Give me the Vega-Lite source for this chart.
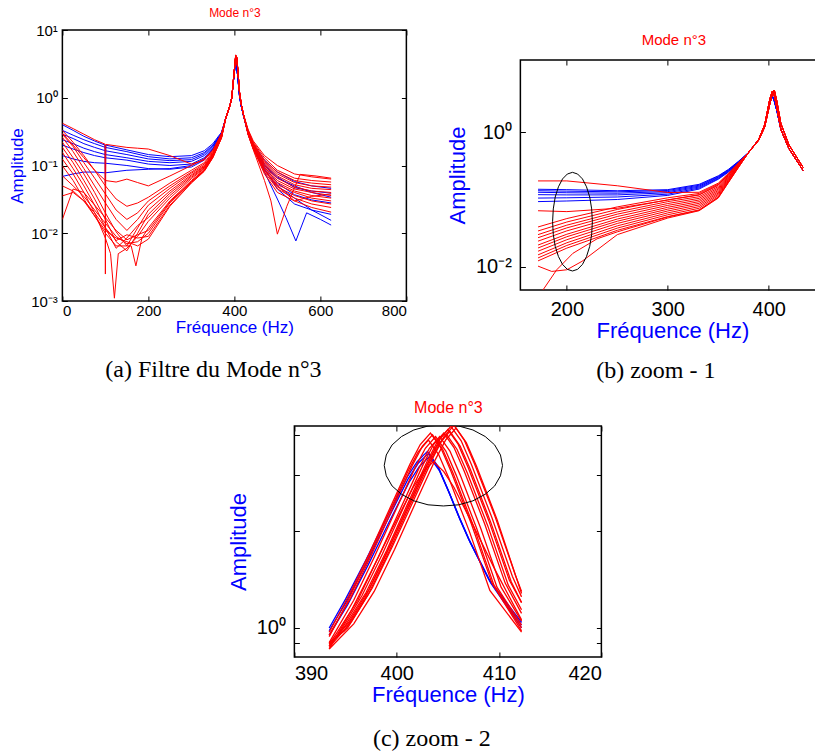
{
"$schema": "https://vega.github.io/schema/vega-lite/v6.json",
"background": "white",
"padding": {"left": 7, "top": 5, "right": 0, "bottom": 0},
"config": {
  "view": {"stroke": "black", "strokeWidth": 1.5},
  "axis": {"grid": false, "domain": false, "tickColor": "black", "tickWidth": 1, "labelColor": "black", "labelFont": "Liberation Sans", "titleFont": "Liberation Sans", "titleFontWeight": "normal", "titleColor": "#0000ff"},
  "title": {"font": "Liberation Serif", "fontWeight": "normal", "color": "black", "fontSize": 24, "orient": "bottom", "frame": "group", "anchor": "middle"},
  "line": {"strokeWidth": 1}
},
"datasets": {
"aB": [
{"s":1,"f":0,"v":0.4},{"s":1,"f":25,"v":0.33},{"s":1,"f":50,"v":0.27},{"s":1,"f":75,"v":0.23},{"s":1,"f":99,"v":0.2},{"s":1,"f":100,"v":0.055},{"s":1,"f":101,"v":0.2},{"s":1,"f":150,"v":0.17},{"s":1,"f":200,"v":0.145},{"s":1,"f":250,"v":0.135},{"s":1,"f":300,"v":0.14},{"s":1,"f":330,"v":0.165},{"s":1,"f":350,"v":0.21},{"s":1,"f":370,"v":0.31},{"s":1,"f":380,"v":0.5},{"s":1,"f":390,"v":0.78},{"s":1,"f":394,"v":1},{"s":1,"f":398,"v":1.8},{"s":1,"f":401,"v":2.7},{"s":1,"f":403,"v":3.5},{"s":1,"f":405.5,"v":2.8},{"s":1,"f":408,"v":2},{"s":1,"f":412,"v":1.05},{"s":1,"f":416,"v":0.75},{"s":1,"f":421,"v":0.55},{"s":1,"f":432,"v":0.32},{"s":1,"f":444,"v":0.21},{"s":1,"f":470,"v":0.12},{"s":1,"f":500,"v":0.08},{"s":1,"f":540,"v":0.058},{"s":1,"f":580,"v":0.05},{"s":1,"f":625,"v":0.046},
{"s":2,"f":0,"v":0.33},{"s":2,"f":25,"v":0.28},{"s":2,"f":50,"v":0.24},{"s":2,"f":75,"v":0.21},{"s":2,"f":100,"v":0.185},{"s":2,"f":150,"v":0.16},{"s":2,"f":200,"v":0.135},{"s":2,"f":250,"v":0.125},{"s":2,"f":300,"v":0.13},{"s":2,"f":330,"v":0.155},{"s":2,"f":350,"v":0.2},{"s":2,"f":370,"v":0.3},{"s":2,"f":380,"v":0.5},{"s":2,"f":390,"v":0.78},{"s":2,"f":394,"v":1},{"s":2,"f":398,"v":1.8},{"s":2,"f":401,"v":2.7},{"s":2,"f":403,"v":3.5},{"s":2,"f":405.5,"v":2.8},{"s":2,"f":408,"v":2},{"s":2,"f":412,"v":1.05},{"s":2,"f":416,"v":0.75},{"s":2,"f":421,"v":0.55},{"s":2,"f":432,"v":0.31},{"s":2,"f":444,"v":0.2},{"s":2,"f":470,"v":0.105},{"s":2,"f":500,"v":0.068},{"s":2,"f":540,"v":0.047},{"s":2,"f":580,"v":0.042},{"s":2,"f":625,"v":0.039},
{"s":3,"f":0,"v":0.29},{"s":3,"f":25,"v":0.25},{"s":3,"f":50,"v":0.21},{"s":3,"f":75,"v":0.185},{"s":3,"f":100,"v":0.165},{"s":3,"f":150,"v":0.145},{"s":3,"f":200,"v":0.125},{"s":3,"f":250,"v":0.118},{"s":3,"f":300,"v":0.122},{"s":3,"f":330,"v":0.148},{"s":3,"f":350,"v":0.195},{"s":3,"f":370,"v":0.3},{"s":3,"f":380,"v":0.5},{"s":3,"f":390,"v":0.78},{"s":3,"f":394,"v":1},{"s":3,"f":398,"v":1.8},{"s":3,"f":401,"v":2.7},{"s":3,"f":403,"v":3.5},{"s":3,"f":405.5,"v":2.8},{"s":3,"f":408,"v":2},{"s":3,"f":412,"v":1.05},{"s":3,"f":416,"v":0.75},{"s":3,"f":421,"v":0.55},{"s":3,"f":432,"v":0.3},{"s":3,"f":444,"v":0.19},{"s":3,"f":470,"v":0.095},{"s":3,"f":500,"v":0.055},{"s":3,"f":540,"v":0.037},{"s":3,"f":580,"v":0.031},{"s":3,"f":625,"v":0.028},
{"s":4,"f":0,"v":0.24},{"s":4,"f":25,"v":0.21},{"s":4,"f":50,"v":0.18},{"s":4,"f":75,"v":0.16},{"s":4,"f":100,"v":0.145},{"s":4,"f":150,"v":0.13},{"s":4,"f":200,"v":0.115},{"s":4,"f":250,"v":0.11},{"s":4,"f":300,"v":0.115},{"s":4,"f":330,"v":0.14},{"s":4,"f":350,"v":0.19},{"s":4,"f":370,"v":0.29},{"s":4,"f":380,"v":0.5},{"s":4,"f":390,"v":0.78},{"s":4,"f":394,"v":1},{"s":4,"f":398,"v":1.8},{"s":4,"f":401,"v":2.7},{"s":4,"f":403,"v":3.5},{"s":4,"f":405.5,"v":2.8},{"s":4,"f":408,"v":2},{"s":4,"f":412,"v":1.05},{"s":4,"f":416,"v":0.75},{"s":4,"f":421,"v":0.55},{"s":4,"f":432,"v":0.3},{"s":4,"f":444,"v":0.185},{"s":4,"f":470,"v":0.09},{"s":4,"f":500,"v":0.045},{"s":4,"f":540,"v":0.027},{"s":4,"f":580,"v":0.022},{"s":4,"f":625,"v":0.019},
{"s":5,"f":0,"v":0.2},{"s":5,"f":25,"v":0.175},{"s":5,"f":50,"v":0.155},{"s":5,"f":75,"v":0.14},{"s":5,"f":100,"v":0.13},{"s":5,"f":150,"v":0.12},{"s":5,"f":200,"v":0.105},{"s":5,"f":250,"v":0.1},{"s":5,"f":300,"v":0.105},{"s":5,"f":330,"v":0.13},{"s":5,"f":350,"v":0.18},{"s":5,"f":370,"v":0.29},{"s":5,"f":380,"v":0.5},{"s":5,"f":390,"v":0.78},{"s":5,"f":394,"v":1},{"s":5,"f":398,"v":1.8},{"s":5,"f":401,"v":2.7},{"s":5,"f":403,"v":3.5},{"s":5,"f":405.5,"v":2.8},{"s":5,"f":408,"v":2},{"s":5,"f":412,"v":1.05},{"s":5,"f":416,"v":0.75},{"s":5,"f":421,"v":0.55},{"s":5,"f":432,"v":0.29},{"s":5,"f":444,"v":0.18},{"s":5,"f":470,"v":0.08},{"s":5,"f":500,"v":0.032},{"s":5,"f":520,"v":0.017},{"s":5,"f":543,"v":0.0077},{"s":5,"f":568,"v":0.02},{"s":5,"f":600,"v":0.016},{"s":5,"f":625,"v":0.0132},
{"s":6,"f":0,"v":0.14},{"s":6,"f":25,"v":0.125},{"s":6,"f":50,"v":0.115},{"s":6,"f":75,"v":0.11},{"s":6,"f":100,"v":0.108},{"s":6,"f":150,"v":0.1},{"s":6,"f":200,"v":0.09},{"s":6,"f":250,"v":0.088},{"s":6,"f":300,"v":0.095},{"s":6,"f":330,"v":0.12},{"s":6,"f":350,"v":0.175},{"s":6,"f":370,"v":0.285},{"s":6,"f":380,"v":0.5},{"s":6,"f":390,"v":0.78},{"s":6,"f":394,"v":1},{"s":6,"f":398,"v":1.8},{"s":6,"f":401,"v":2.7},{"s":6,"f":403,"v":3.5},{"s":6,"f":405.5,"v":2.8},{"s":6,"f":408,"v":2},{"s":6,"f":412,"v":1.05},{"s":6,"f":416,"v":0.75},{"s":6,"f":421,"v":0.55},{"s":6,"f":432,"v":0.29},{"s":6,"f":444,"v":0.18},{"s":6,"f":470,"v":0.085},{"s":6,"f":500,"v":0.05},{"s":6,"f":540,"v":0.033},{"s":6,"f":580,"v":0.022},{"s":6,"f":625,"v":0.0155},
{"s":7,"f":0,"v":0.069},{"s":7,"f":25,"v":0.075},{"s":7,"f":50,"v":0.08},{"s":7,"f":75,"v":0.08},{"s":7,"f":100,"v":0.078},{"s":7,"f":150,"v":0.085},{"s":7,"f":200,"v":0.088},{"s":7,"f":250,"v":0.09},{"s":7,"f":300,"v":0.1},{"s":7,"f":330,"v":0.125},{"s":7,"f":350,"v":0.175},{"s":7,"f":370,"v":0.285},{"s":7,"f":380,"v":0.5},{"s":7,"f":390,"v":0.78},{"s":7,"f":394,"v":1},{"s":7,"f":398,"v":1.8},{"s":7,"f":401,"v":2.7},{"s":7,"f":403,"v":3.5},{"s":7,"f":405.5,"v":2.8},{"s":7,"f":408,"v":2},{"s":7,"f":412,"v":1.05},{"s":7,"f":416,"v":0.75},{"s":7,"f":421,"v":0.55},{"s":7,"f":432,"v":0.3},{"s":7,"f":444,"v":0.19},{"s":7,"f":470,"v":0.1},{"s":7,"f":500,"v":0.065},{"s":7,"f":540,"v":0.05},{"s":7,"f":580,"v":0.04},{"s":7,"f":625,"v":0.034}
],
"aR": [
{"s":1,"f":0,"v":0.42},{"s":1,"f":25,"v":0.35},{"s":1,"f":50,"v":0.29},{"s":1,"f":75,"v":0.24},{"s":1,"f":99,"v":0.207},{"s":1,"f":100,"v":0.0025},{"s":1,"f":101,"v":0.205},{"s":1,"f":125,"v":0.195},{"s":1,"f":150,"v":0.185},{"s":1,"f":175,"v":0.18},{"s":1,"f":200,"v":0.175},{"s":1,"f":250,"v":0.14},{"s":1,"f":300,"v":0.105},{"s":1,"f":330,"v":0.12},{"s":1,"f":350,"v":0.165},{"s":1,"f":370,"v":0.3},{"s":1,"f":380,"v":0.5},{"s":1,"f":390,"v":0.78},{"s":1,"f":394,"v":1},{"s":1,"f":398,"v":1.9},{"s":1,"f":401,"v":3},{"s":1,"f":403,"v":4.2},{"s":1,"f":405.5,"v":3.9},{"s":1,"f":408,"v":2.6},{"s":1,"f":412,"v":1.2},{"s":1,"f":416,"v":0.8},{"s":1,"f":421,"v":0.57},{"s":1,"f":432,"v":0.34},{"s":1,"f":444,"v":0.23},{"s":1,"f":470,"v":0.14},{"s":1,"f":500,"v":0.1},{"s":1,"f":540,"v":0.075},{"s":1,"f":580,"v":0.068},{"s":1,"f":625,"v":0.063},
{"s":2,"f":0,"v":0.3},{"s":2,"f":25,"v":0.2},{"s":2,"f":50,"v":0.13},{"s":2,"f":75,"v":0.085},{"s":2,"f":100,"v":0.06},{"s":2,"f":125,"v":0.057},{"s":2,"f":150,"v":0.063},{"s":2,"f":175,"v":0.056},{"s":2,"f":200,"v":0.05},{"s":2,"f":250,"v":0.07},{"s":2,"f":300,"v":0.1},{"s":2,"f":330,"v":0.125},{"s":2,"f":350,"v":0.17},{"s":2,"f":370,"v":0.29},{"s":2,"f":380,"v":0.5},{"s":2,"f":390,"v":0.78},{"s":2,"f":394,"v":1},{"s":2,"f":398,"v":1.9},{"s":2,"f":401,"v":3},{"s":2,"f":403,"v":4.1},{"s":2,"f":405.5,"v":3.9},{"s":2,"f":408,"v":2.6},{"s":2,"f":412,"v":1.2},{"s":2,"f":416,"v":0.8},{"s":2,"f":421,"v":0.57},{"s":2,"f":432,"v":0.33},{"s":2,"f":444,"v":0.22},{"s":2,"f":470,"v":0.13},{"s":2,"f":500,"v":0.085},{"s":2,"f":540,"v":0.065},{"s":2,"f":580,"v":0.06},{"s":2,"f":625,"v":0.057},
{"s":3,"f":0,"v":0.33},{"s":3,"f":25,"v":0.22},{"s":3,"f":50,"v":0.14},{"s":3,"f":75,"v":0.085},{"s":3,"f":100,"v":0.05},{"s":3,"f":125,"v":0.032},{"s":3,"f":150,"v":0.025},{"s":3,"f":175,"v":0.028},{"s":3,"f":200,"v":0.034},{"s":3,"f":250,"v":0.055},{"s":3,"f":300,"v":0.085},{"s":3,"f":330,"v":0.11},{"s":3,"f":350,"v":0.16},{"s":3,"f":370,"v":0.28},{"s":3,"f":380,"v":0.5},{"s":3,"f":390,"v":0.78},{"s":3,"f":394,"v":1},{"s":3,"f":398,"v":1.9},{"s":3,"f":401,"v":3},{"s":3,"f":403,"v":4.25},{"s":3,"f":405.5,"v":3.9},{"s":3,"f":408,"v":2.6},{"s":3,"f":412,"v":1.2},{"s":3,"f":416,"v":0.8},{"s":3,"f":421,"v":0.57},{"s":3,"f":432,"v":0.32},{"s":3,"f":444,"v":0.21},{"s":3,"f":470,"v":0.12},{"s":3,"f":500,"v":0.08},{"s":3,"f":540,"v":0.06},{"s":3,"f":580,"v":0.055},{"s":3,"f":625,"v":0.052},
{"s":4,"f":0,"v":0.29},{"s":4,"f":25,"v":0.19},{"s":4,"f":50,"v":0.11},{"s":4,"f":75,"v":0.065},{"s":4,"f":100,"v":0.038},{"s":4,"f":125,"v":0.022},{"s":4,"f":150,"v":0.016},{"s":4,"f":175,"v":0.02},{"s":4,"f":200,"v":0.03},{"s":4,"f":250,"v":0.05},{"s":4,"f":300,"v":0.08},{"s":4,"f":330,"v":0.105},{"s":4,"f":350,"v":0.155},{"s":4,"f":370,"v":0.28},{"s":4,"f":380,"v":0.5},{"s":4,"f":390,"v":0.78},{"s":4,"f":394,"v":1},{"s":4,"f":398,"v":1.9},{"s":4,"f":401,"v":3},{"s":4,"f":403,"v":4},{"s":4,"f":405.5,"v":3.9},{"s":4,"f":408,"v":2.6},{"s":4,"f":412,"v":1.2},{"s":4,"f":416,"v":0.8},{"s":4,"f":421,"v":0.57},{"s":4,"f":432,"v":0.32},{"s":4,"f":444,"v":0.21},{"s":4,"f":470,"v":0.115},{"s":4,"f":500,"v":0.075},{"s":4,"f":540,"v":0.056},{"s":4,"f":580,"v":0.05},{"s":4,"f":625,"v":0.048},
{"s":5,"f":0,"v":0.26},{"s":5,"f":25,"v":0.16},{"s":5,"f":50,"v":0.09},{"s":5,"f":75,"v":0.05},{"s":5,"f":100,"v":0.028},{"s":5,"f":125,"v":0.016},{"s":5,"f":150,"v":0.011},{"s":5,"f":175,"v":0.016},{"s":5,"f":200,"v":0.026},{"s":5,"f":250,"v":0.046},{"s":5,"f":300,"v":0.077},{"s":5,"f":330,"v":0.1},{"s":5,"f":350,"v":0.15},{"s":5,"f":370,"v":0.275},{"s":5,"f":380,"v":0.5},{"s":5,"f":390,"v":0.78},{"s":5,"f":394,"v":1},{"s":5,"f":398,"v":1.9},{"s":5,"f":401,"v":3},{"s":5,"f":403,"v":4.15},{"s":5,"f":405.5,"v":3.9},{"s":5,"f":408,"v":2.6},{"s":5,"f":412,"v":1.2},{"s":5,"f":416,"v":0.8},{"s":5,"f":421,"v":0.57},{"s":5,"f":432,"v":0.31},{"s":5,"f":444,"v":0.205},{"s":5,"f":470,"v":0.11},{"s":5,"f":500,"v":0.07},{"s":5,"f":540,"v":0.052},{"s":5,"f":580,"v":0.046},{"s":5,"f":625,"v":0.044},
{"s":6,"f":0,"v":0.22},{"s":6,"f":25,"v":0.13},{"s":6,"f":50,"v":0.075},{"s":6,"f":75,"v":0.04},{"s":6,"f":100,"v":0.02},{"s":6,"f":125,"v":0.0105},{"s":6,"f":150,"v":0.0065},{"s":6,"f":175,"v":0.012},{"s":6,"f":200,"v":0.022},{"s":6,"f":250,"v":0.042},{"s":6,"f":300,"v":0.073},{"s":6,"f":330,"v":0.097},{"s":6,"f":350,"v":0.148},{"s":6,"f":370,"v":0.27},{"s":6,"f":380,"v":0.5},{"s":6,"f":390,"v":0.78},{"s":6,"f":394,"v":1},{"s":6,"f":398,"v":1.9},{"s":6,"f":401,"v":3},{"s":6,"f":403,"v":4.3},{"s":6,"f":405.5,"v":3.9},{"s":6,"f":408,"v":2.6},{"s":6,"f":412,"v":1.2},{"s":6,"f":416,"v":0.8},{"s":6,"f":421,"v":0.57},{"s":6,"f":432,"v":0.31},{"s":6,"f":444,"v":0.2},{"s":6,"f":470,"v":0.105},{"s":6,"f":500,"v":0.065},{"s":6,"f":540,"v":0.048},{"s":6,"f":580,"v":0.042},{"s":6,"f":625,"v":0.04},
{"s":7,"f":0,"v":0.185},{"s":7,"f":25,"v":0.11},{"s":7,"f":50,"v":0.06},{"s":7,"f":75,"v":0.032},{"s":7,"f":100,"v":0.016},{"s":7,"f":125,"v":0.0075},{"s":7,"f":150,"v":0.0055},{"s":7,"f":175,"v":0.01},{"s":7,"f":200,"v":0.019},{"s":7,"f":250,"v":0.039},{"s":7,"f":300,"v":0.07},{"s":7,"f":330,"v":0.095},{"s":7,"f":350,"v":0.145},{"s":7,"f":370,"v":0.27},{"s":7,"f":380,"v":0.5},{"s":7,"f":390,"v":0.78},{"s":7,"f":394,"v":1},{"s":7,"f":398,"v":1.9},{"s":7,"f":401,"v":3},{"s":7,"f":403,"v":4.1},{"s":7,"f":405.5,"v":3.9},{"s":7,"f":408,"v":2.6},{"s":7,"f":412,"v":1.2},{"s":7,"f":416,"v":0.8},{"s":7,"f":421,"v":0.57},{"s":7,"f":432,"v":0.3},{"s":7,"f":444,"v":0.2},{"s":7,"f":470,"v":0.1},{"s":7,"f":500,"v":0.06},{"s":7,"f":540,"v":0.045},{"s":7,"f":580,"v":0.04},{"s":7,"f":625,"v":0.036},
{"s":8,"f":0,"v":0.156},{"s":8,"f":25,"v":0.09},{"s":8,"f":50,"v":0.05},{"s":8,"f":75,"v":0.026},{"s":8,"f":100,"v":0.012},{"s":8,"f":125,"v":0.006},{"s":8,"f":150,"v":0.0085},{"s":8,"f":175,"v":0.013},{"s":8,"f":200,"v":0.017},{"s":8,"f":250,"v":0.036},{"s":8,"f":300,"v":0.067},{"s":8,"f":330,"v":0.092},{"s":8,"f":350,"v":0.142},{"s":8,"f":370,"v":0.265},{"s":8,"f":380,"v":0.5},{"s":8,"f":390,"v":0.78},{"s":8,"f":394,"v":1},{"s":8,"f":398,"v":1.9},{"s":8,"f":401,"v":3},{"s":8,"f":403,"v":4.2},{"s":8,"f":405.5,"v":3.9},{"s":8,"f":408,"v":2.6},{"s":8,"f":412,"v":1.2},{"s":8,"f":416,"v":0.8},{"s":8,"f":421,"v":0.57},{"s":8,"f":432,"v":0.3},{"s":8,"f":444,"v":0.195},{"s":8,"f":470,"v":0.095},{"s":8,"f":500,"v":0.056},{"s":8,"f":540,"v":0.042},{"s":8,"f":580,"v":0.036},{"s":8,"f":625,"v":0.033},
{"s":9,"f":0,"v":0.124},{"s":9,"f":25,"v":0.075},{"s":9,"f":50,"v":0.04},{"s":9,"f":75,"v":0.02},{"s":9,"f":100,"v":0.0085},{"s":9,"f":112,"v":0.005},{"s":9,"f":121,"v":0.0011},{"s":9,"f":130,"v":0.005},{"s":9,"f":150,"v":0.006},{"s":9,"f":175,"v":0.009},{"s":9,"f":200,"v":0.015},{"s":9,"f":250,"v":0.033},{"s":9,"f":300,"v":0.064},{"s":9,"f":330,"v":0.09},{"s":9,"f":350,"v":0.14},{"s":9,"f":370,"v":0.265},{"s":9,"f":380,"v":0.5},{"s":9,"f":390,"v":0.78},{"s":9,"f":394,"v":1},{"s":9,"f":398,"v":1.9},{"s":9,"f":401,"v":3},{"s":9,"f":403,"v":4.05},{"s":9,"f":405.5,"v":3.9},{"s":9,"f":408,"v":2.6},{"s":9,"f":412,"v":1.2},{"s":9,"f":416,"v":0.8},{"s":9,"f":421,"v":0.57},{"s":9,"f":432,"v":0.295},{"s":9,"f":444,"v":0.19},{"s":9,"f":470,"v":0.09},{"s":9,"f":500,"v":0.052},{"s":9,"f":540,"v":0.04},{"s":9,"f":580,"v":0.033},{"s":9,"f":625,"v":0.03},
{"s":10,"f":0,"v":0.099},{"s":10,"f":25,"v":0.06},{"s":10,"f":50,"v":0.032},{"s":10,"f":75,"v":0.018},{"s":10,"f":100,"v":0.01},{"s":10,"f":125,"v":0.0065},{"s":10,"f":150,"v":0.0065},{"s":10,"f":160,"v":0.0065},{"s":10,"f":171,"v":0.0033},{"s":10,"f":185,"v":0.0085},{"s":10,"f":200,"v":0.012},{"s":10,"f":250,"v":0.03},{"s":10,"f":300,"v":0.06},{"s":10,"f":330,"v":0.087},{"s":10,"f":350,"v":0.138},{"s":10,"f":370,"v":0.26},{"s":10,"f":380,"v":0.5},{"s":10,"f":390,"v":0.78},{"s":10,"f":394,"v":1},{"s":10,"f":398,"v":1.9},{"s":10,"f":401,"v":3},{"s":10,"f":403,"v":4.15},{"s":10,"f":405.5,"v":3.9},{"s":10,"f":408,"v":2.6},{"s":10,"f":412,"v":1.2},{"s":10,"f":416,"v":0.8},{"s":10,"f":421,"v":0.57},{"s":10,"f":432,"v":0.295},{"s":10,"f":444,"v":0.185},{"s":10,"f":470,"v":0.085},{"s":10,"f":500,"v":0.048},{"s":10,"f":540,"v":0.036},{"s":10,"f":580,"v":0.03},{"s":10,"f":625,"v":0.027},
{"s":11,"f":0,"v":0.0705},{"s":11,"f":25,"v":0.05},{"s":11,"f":50,"v":0.035},{"s":11,"f":75,"v":0.022},{"s":11,"f":100,"v":0.014},{"s":11,"f":125,"v":0.009},{"s":11,"f":150,"v":0.007},{"s":11,"f":175,"v":0.0075},{"s":11,"f":200,"v":0.01},{"s":11,"f":250,"v":0.028},{"s":11,"f":300,"v":0.058},{"s":11,"f":330,"v":0.085},{"s":11,"f":350,"v":0.135},{"s":11,"f":370,"v":0.26},{"s":11,"f":380,"v":0.5},{"s":11,"f":390,"v":0.78},{"s":11,"f":394,"v":1},{"s":11,"f":398,"v":1.9},{"s":11,"f":401,"v":3},{"s":11,"f":403,"v":4.2},{"s":11,"f":405.5,"v":3.9},{"s":11,"f":408,"v":2.6},{"s":11,"f":412,"v":1.2},{"s":11,"f":416,"v":0.8},{"s":11,"f":421,"v":0.57},{"s":11,"f":432,"v":0.29},{"s":11,"f":444,"v":0.18},{"s":11,"f":470,"v":0.08},{"s":11,"f":500,"v":0.045},{"s":11,"f":540,"v":0.033},{"s":11,"f":580,"v":0.027},{"s":11,"f":625,"v":0.024},
{"s":12,"f":0,"v":0.05},{"s":12,"f":25,"v":0.042},{"s":12,"f":50,"v":0.03},{"s":12,"f":75,"v":0.02},{"s":12,"f":100,"v":0.012},{"s":12,"f":125,"v":0.0078},{"s":12,"f":150,"v":0.0095},{"s":12,"f":175,"v":0.0085},{"s":12,"f":200,"v":0.009},{"s":12,"f":250,"v":0.026},{"s":12,"f":300,"v":0.056},{"s":12,"f":330,"v":0.083},{"s":12,"f":350,"v":0.133},{"s":12,"f":370,"v":0.255},{"s":12,"f":380,"v":0.5},{"s":12,"f":390,"v":0.78},{"s":12,"f":394,"v":1},{"s":12,"f":398,"v":1.9},{"s":12,"f":401,"v":3},{"s":12,"f":403,"v":4},{"s":12,"f":405.5,"v":3.9},{"s":12,"f":408,"v":2.6},{"s":12,"f":412,"v":1.2},{"s":12,"f":416,"v":0.8},{"s":12,"f":421,"v":0.57},{"s":12,"f":432,"v":0.29},{"s":12,"f":444,"v":0.175},{"s":12,"f":470,"v":0.075},{"s":12,"f":500,"v":0.04},{"s":12,"f":540,"v":0.03},{"s":12,"f":580,"v":0.024},{"s":12,"f":625,"v":0.0205},
{"s":13,"f":0,"v":0.0356},{"s":13,"f":25,"v":0.04},{"s":13,"f":50,"v":0.03},{"s":13,"f":75,"v":0.018},{"s":13,"f":100,"v":0.011},{"s":13,"f":125,"v":0.0085},{"s":13,"f":150,"v":0.0075},{"s":13,"f":175,"v":0.0065},{"s":13,"f":200,"v":0.0082},{"s":13,"f":250,"v":0.025},{"s":13,"f":300,"v":0.055},{"s":13,"f":330,"v":0.082},{"s":13,"f":350,"v":0.13},{"s":13,"f":370,"v":0.255},{"s":13,"f":380,"v":0.5},{"s":13,"f":390,"v":0.78},{"s":13,"f":394,"v":1},{"s":13,"f":398,"v":1.9},{"s":13,"f":401,"v":3},{"s":13,"f":403,"v":4.1},{"s":13,"f":405.5,"v":3.9},{"s":13,"f":408,"v":2.6},{"s":13,"f":412,"v":1.2},{"s":13,"f":416,"v":0.8},{"s":13,"f":421,"v":0.57},{"s":13,"f":432,"v":0.285},{"s":13,"f":444,"v":0.17},{"s":13,"f":470,"v":0.06},{"s":13,"f":485,"v":0.03},{"s":13,"f":500,"v":0.0097},{"s":13,"f":522,"v":0.025},{"s":13,"f":553,"v":0.074},{"s":13,"f":590,"v":0.07},{"s":13,"f":625,"v":0.065},
{"s":14,"f":0,"v":0.016},{"s":14,"f":25,"v":0.045},{"s":14,"f":50,"v":0.04},{"s":14,"f":75,"v":0.026},{"s":14,"f":100,"v":0.017},{"s":14,"f":125,"v":0.011},{"s":14,"f":150,"v":0.008},{"s":14,"f":175,"v":0.0095},{"s":14,"f":200,"v":0.011},{"s":14,"f":250,"v":0.029},{"s":14,"f":300,"v":0.058},{"s":14,"f":330,"v":0.084},{"s":14,"f":350,"v":0.132},{"s":14,"f":370,"v":0.255},{"s":14,"f":380,"v":0.5},{"s":14,"f":390,"v":0.78},{"s":14,"f":394,"v":1},{"s":14,"f":398,"v":1.9},{"s":14,"f":401,"v":3},{"s":14,"f":403,"v":4.25},{"s":14,"f":405.5,"v":3.9},{"s":14,"f":408,"v":2.6},{"s":14,"f":412,"v":1.2},{"s":14,"f":416,"v":0.8},{"s":14,"f":421,"v":0.57},{"s":14,"f":432,"v":0.285},{"s":14,"f":444,"v":0.175},{"s":14,"f":470,"v":0.085},{"s":14,"f":500,"v":0.05},{"s":14,"f":540,"v":0.03},{"s":14,"f":580,"v":0.035},{"s":14,"f":625,"v":0.038}
],
"bB": [
{"s":1,"f":171.5,"v":0.142},{"s":1,"f":200,"v":0.14},{"s":1,"f":250,"v":0.135},{"s":1,"f":300,"v":0.14},{"s":1,"f":331,"v":0.168},{"s":1,"f":350,"v":0.225},{"s":1,"f":360,"v":0.28},{"s":1,"f":370,"v":0.37},{"s":1,"f":380,"v":0.5},{"s":1,"f":390,"v":0.78},{"s":1,"f":396,"v":1.25},{"s":1,"f":401,"v":2.7},{"s":1,"f":403.5,"v":3.5},{"s":1,"f":405.5,"v":2.9},{"s":1,"f":408,"v":2.1},{"s":1,"f":412,"v":1.1},{"s":1,"f":420,"v":0.57},{"s":1,"f":434,"v":0.27},
{"s":2,"f":171.5,"v":0.135},{"s":2,"f":200,"v":0.133},{"s":2,"f":250,"v":0.13},{"s":2,"f":300,"v":0.136},{"s":2,"f":331,"v":0.163},{"s":2,"f":350,"v":0.22},{"s":2,"f":360,"v":0.275},{"s":2,"f":370,"v":0.365},{"s":2,"f":380,"v":0.5},{"s":2,"f":390,"v":0.78},{"s":2,"f":396,"v":1.25},{"s":2,"f":401,"v":2.7},{"s":2,"f":403.5,"v":3.5},{"s":2,"f":405.5,"v":2.9},{"s":2,"f":408,"v":2.1},{"s":2,"f":412,"v":1.1},{"s":2,"f":420,"v":0.57},{"s":2,"f":434,"v":0.27},
{"s":3,"f":171.5,"v":0.128},{"s":3,"f":200,"v":0.126},{"s":3,"f":250,"v":0.124},{"s":3,"f":300,"v":0.131},{"s":3,"f":331,"v":0.158},{"s":3,"f":350,"v":0.215},{"s":3,"f":360,"v":0.27},{"s":3,"f":370,"v":0.36},{"s":3,"f":380,"v":0.5},{"s":3,"f":390,"v":0.78},{"s":3,"f":396,"v":1.25},{"s":3,"f":401,"v":2.7},{"s":3,"f":403.5,"v":3.5},{"s":3,"f":405.5,"v":2.9},{"s":3,"f":408,"v":2.1},{"s":3,"f":412,"v":1.1},{"s":3,"f":420,"v":0.57},{"s":3,"f":434,"v":0.27},
{"s":4,"f":171.5,"v":0.118},{"s":4,"f":200,"v":0.117},{"s":4,"f":250,"v":0.117},{"s":4,"f":300,"v":0.126},{"s":4,"f":331,"v":0.153},{"s":4,"f":350,"v":0.21},{"s":4,"f":360,"v":0.265},{"s":4,"f":370,"v":0.355},{"s":4,"f":380,"v":0.5},{"s":4,"f":390,"v":0.78},{"s":4,"f":396,"v":1.25},{"s":4,"f":401,"v":2.7},{"s":4,"f":403.5,"v":3.5},{"s":4,"f":405.5,"v":2.9},{"s":4,"f":408,"v":2.1},{"s":4,"f":412,"v":1.1},{"s":4,"f":420,"v":0.57},{"s":4,"f":434,"v":0.27},
{"s":5,"f":171.5,"v":0.105},{"s":5,"f":200,"v":0.106},{"s":5,"f":250,"v":0.109},{"s":5,"f":300,"v":0.12},{"s":5,"f":331,"v":0.148},{"s":5,"f":350,"v":0.205},{"s":5,"f":360,"v":0.26},{"s":5,"f":370,"v":0.35},{"s":5,"f":380,"v":0.5},{"s":5,"f":390,"v":0.78},{"s":5,"f":396,"v":1.25},{"s":5,"f":401,"v":2.7},{"s":5,"f":403.5,"v":3.5},{"s":5,"f":405.5,"v":2.9},{"s":5,"f":408,"v":2.1},{"s":5,"f":412,"v":1.1},{"s":5,"f":420,"v":0.57},{"s":5,"f":434,"v":0.27},
{"s":6,"f":171.5,"v":0.093},{"s":6,"f":200,"v":0.095},{"s":6,"f":250,"v":0.1},{"s":6,"f":300,"v":0.115},{"s":6,"f":331,"v":0.143},{"s":6,"f":350,"v":0.2},{"s":6,"f":360,"v":0.255},{"s":6,"f":370,"v":0.345},{"s":6,"f":380,"v":0.5},{"s":6,"f":390,"v":0.78},{"s":6,"f":396,"v":1.25},{"s":6,"f":401,"v":2.7},{"s":6,"f":403.5,"v":3.5},{"s":6,"f":405.5,"v":2.9},{"s":6,"f":408,"v":2.1},{"s":6,"f":412,"v":1.1},{"s":6,"f":420,"v":0.57},{"s":6,"f":434,"v":0.27}
],
"bR": [
{"s":1,"f":171.5,"v":0.039},{"s":1,"f":200,"v":0.052},{"s":1,"f":250,"v":0.0776},{"s":1,"f":300,"v":0.106},{"s":1,"f":331,"v":0.123},{"s":1,"f":350,"v":0.17},{"s":1,"f":360,"v":0.24},{"s":1,"f":370,"v":0.347},{"s":1,"f":380,"v":0.5},{"s":1,"f":390,"v":0.78},{"s":1,"f":396,"v":1.3},{"s":1,"f":401,"v":3.1},{"s":1,"f":403.5,"v":4.05},{"s":1,"f":405.5,"v":3.5},{"s":1,"f":408,"v":2.3},{"s":1,"f":412,"v":1.1},{"s":1,"f":420,"v":0.57},{"s":1,"f":434,"v":0.27},
{"s":2,"f":171.5,"v":0.034},{"s":2,"f":200,"v":0.0462},{"s":2,"f":250,"v":0.0711},{"s":2,"f":300,"v":0.099},{"s":2,"f":331,"v":0.1163},{"s":2,"f":350,"v":0.1626},{"s":2,"f":360,"v":0.2333},{"s":2,"f":370,"v":0.342},{"s":2,"f":380,"v":0.5},{"s":2,"f":390,"v":0.76},{"s":2,"f":396,"v":1.2},{"s":2,"f":401,"v":2.6},{"s":2,"f":403.5,"v":3.7},{"s":2,"f":405.5,"v":4.25},{"s":2,"f":408,"v":2.9},{"s":2,"f":412,"v":1.35},{"s":2,"f":420,"v":0.65},{"s":2,"f":434,"v":0.3},
{"s":3,"f":171.5,"v":0.03},{"s":3,"f":200,"v":0.0415},{"s":3,"f":250,"v":0.0653},{"s":3,"f":300,"v":0.0929},{"s":3,"f":331,"v":0.1099},{"s":3,"f":350,"v":0.1556},{"s":3,"f":360,"v":0.227},{"s":3,"f":370,"v":0.338},{"s":3,"f":380,"v":0.5},{"s":3,"f":390,"v":0.78},{"s":3,"f":396,"v":1.3},{"s":3,"f":401,"v":3.1},{"s":3,"f":403.5,"v":4.05},{"s":3,"f":405.5,"v":3.5},{"s":3,"f":408,"v":2.3},{"s":3,"f":412,"v":1.1},{"s":3,"f":420,"v":0.57},{"s":3,"f":434,"v":0.27},
{"s":4,"f":171.5,"v":0.027},{"s":4,"f":200,"v":0.0378},{"s":4,"f":250,"v":0.0605},{"s":4,"f":300,"v":0.0871},{"s":4,"f":331,"v":0.1039},{"s":4,"f":350,"v":0.149},{"s":4,"f":360,"v":0.2208},{"s":4,"f":370,"v":0.333},{"s":4,"f":380,"v":0.5},{"s":4,"f":390,"v":0.76},{"s":4,"f":396,"v":1.2},{"s":4,"f":401,"v":2.6},{"s":4,"f":403.5,"v":3.7},{"s":4,"f":405.5,"v":4.25},{"s":4,"f":408,"v":2.9},{"s":4,"f":412,"v":1.35},{"s":4,"f":420,"v":0.65},{"s":4,"f":434,"v":0.3},
{"s":5,"f":171.5,"v":0.024},{"s":5,"f":200,"v":0.0341},{"s":5,"f":250,"v":0.0558},{"s":5,"f":300,"v":0.0817},{"s":5,"f":331,"v":0.0982},{"s":5,"f":350,"v":0.1426},{"s":5,"f":360,"v":0.2148},{"s":5,"f":370,"v":0.328},{"s":5,"f":380,"v":0.5},{"s":5,"f":390,"v":0.78},{"s":5,"f":396,"v":1.3},{"s":5,"f":401,"v":3.1},{"s":5,"f":403.5,"v":4.05},{"s":5,"f":405.5,"v":3.5},{"s":5,"f":408,"v":2.3},{"s":5,"f":412,"v":1.1},{"s":5,"f":420,"v":0.57},{"s":5,"f":434,"v":0.27},
{"s":6,"f":171.5,"v":0.021},{"s":6,"f":200,"v":0.0304},{"s":6,"f":250,"v":0.0512},{"s":6,"f":300,"v":0.0766},{"s":6,"f":331,"v":0.0928},{"s":6,"f":350,"v":0.1365},{"s":6,"f":360,"v":0.2089},{"s":6,"f":370,"v":0.324},{"s":6,"f":380,"v":0.5},{"s":6,"f":390,"v":0.76},{"s":6,"f":396,"v":1.2},{"s":6,"f":401,"v":2.6},{"s":6,"f":403.5,"v":3.7},{"s":6,"f":405.5,"v":4.25},{"s":6,"f":408,"v":2.9},{"s":6,"f":412,"v":1.35},{"s":6,"f":420,"v":0.65},{"s":6,"f":434,"v":0.3},
{"s":7,"f":171.5,"v":0.019},{"s":7,"f":200,"v":0.0279},{"s":7,"f":250,"v":0.0475},{"s":7,"f":300,"v":0.0719},{"s":7,"f":331,"v":0.0877},{"s":7,"f":350,"v":0.1306},{"s":7,"f":360,"v":0.2032},{"s":7,"f":370,"v":0.32},{"s":7,"f":380,"v":0.5},{"s":7,"f":390,"v":0.78},{"s":7,"f":396,"v":1.3},{"s":7,"f":401,"v":3.1},{"s":7,"f":403.5,"v":4.05},{"s":7,"f":405.5,"v":3.5},{"s":7,"f":408,"v":2.3},{"s":7,"f":412,"v":1.1},{"s":7,"f":420,"v":0.57},{"s":7,"f":434,"v":0.27},
{"s":8,"f":171.5,"v":0.017},{"s":8,"f":200,"v":0.0252},{"s":8,"f":250,"v":0.044},{"s":8,"f":300,"v":0.0675},{"s":8,"f":331,"v":0.0829},{"s":8,"f":350,"v":0.125},{"s":8,"f":360,"v":0.1977},{"s":8,"f":370,"v":0.316},{"s":8,"f":380,"v":0.5},{"s":8,"f":390,"v":0.76},{"s":8,"f":396,"v":1.2},{"s":8,"f":401,"v":2.6},{"s":8,"f":403.5,"v":3.7},{"s":8,"f":405.5,"v":4.25},{"s":8,"f":408,"v":2.9},{"s":8,"f":412,"v":1.35},{"s":8,"f":420,"v":0.65},{"s":8,"f":434,"v":0.3},
{"s":9,"f":171.5,"v":0.015},{"s":9,"f":200,"v":0.0227},{"s":9,"f":250,"v":0.0405},{"s":9,"f":300,"v":0.0632},{"s":9,"f":331,"v":0.0783},{"s":9,"f":350,"v":0.1197},{"s":9,"f":360,"v":0.1923},{"s":9,"f":370,"v":0.311},{"s":9,"f":380,"v":0.5},{"s":9,"f":390,"v":0.78},{"s":9,"f":396,"v":1.3},{"s":9,"f":401,"v":3.1},{"s":9,"f":403.5,"v":4.05},{"s":9,"f":405.5,"v":3.5},{"s":9,"f":408,"v":2.3},{"s":9,"f":412,"v":1.1},{"s":9,"f":420,"v":0.57},{"s":9,"f":434,"v":0.27},
{"s":10,"f":171.5,"v":0.0135},{"s":10,"f":200,"v":0.0207},{"s":10,"f":250,"v":0.0375},{"s":10,"f":300,"v":0.0593},{"s":10,"f":331,"v":0.074},{"s":10,"f":350,"v":0.1146},{"s":10,"f":360,"v":0.1871},{"s":10,"f":370,"v":0.307},{"s":10,"f":380,"v":0.5},{"s":10,"f":390,"v":0.76},{"s":10,"f":396,"v":1.2},{"s":10,"f":401,"v":2.6},{"s":10,"f":403.5,"v":3.7},{"s":10,"f":405.5,"v":4.25},{"s":10,"f":408,"v":2.9},{"s":10,"f":412,"v":1.35},{"s":10,"f":420,"v":0.65},{"s":10,"f":434,"v":0.3},
{"s":11,"f":171.5,"v":0.0122},{"s":11,"f":200,"v":0.0189},{"s":11,"f":250,"v":0.0348},{"s":11,"f":300,"v":0.0557},{"s":11,"f":331,"v":0.07},{"s":11,"f":350,"v":0.1096},{"s":11,"f":360,"v":0.182},{"s":11,"f":370,"v":0.302},{"s":11,"f":380,"v":0.5},{"s":11,"f":390,"v":0.78},{"s":11,"f":396,"v":1.3},{"s":11,"f":401,"v":3.1},{"s":11,"f":403.5,"v":4.05},{"s":11,"f":405.5,"v":3.5},{"s":11,"f":408,"v":2.3},{"s":11,"f":412,"v":1.1},{"s":11,"f":420,"v":0.57},{"s":11,"f":434,"v":0.27},
{"s":12,"f":171.5,"v":0.189},{"s":12,"f":200,"v":0.189},{"s":12,"f":250,"v":0.16},{"s":12,"f":300,"v":0.127},{"s":12,"f":331,"v":0.128},{"s":12,"f":350,"v":0.175},{"s":12,"f":360,"v":0.245},{"s":12,"f":370,"v":0.35},{"s":12,"f":380,"v":0.5},{"s":12,"f":390,"v":0.76},{"s":12,"f":396,"v":1.2},{"s":12,"f":401,"v":2.6},{"s":12,"f":403.5,"v":3.7},{"s":12,"f":405.5,"v":4.25},{"s":12,"f":408,"v":2.9},{"s":12,"f":412,"v":1.35},{"s":12,"f":420,"v":0.65},{"s":12,"f":434,"v":0.3},
{"s":13,"f":171.5,"v":0.068},{"s":13,"f":200,"v":0.066},{"s":13,"f":250,"v":0.074},{"s":13,"f":300,"v":0.098},{"s":13,"f":331,"v":0.118},{"s":13,"f":350,"v":0.165},{"s":13,"f":360,"v":0.235},{"s":13,"f":370,"v":0.345},{"s":13,"f":380,"v":0.5},{"s":13,"f":390,"v":0.78},{"s":13,"f":396,"v":1.3},{"s":13,"f":401,"v":3.1},{"s":13,"f":403.5,"v":4.05},{"s":13,"f":405.5,"v":3.5},{"s":13,"f":408,"v":2.3},{"s":13,"f":412,"v":1.1},{"s":13,"f":420,"v":0.57},{"s":13,"f":434,"v":0.27},
{"s":14,"f":171.5,"v":0.0102},{"s":14,"f":185,"v":0.0085},{"s":14,"f":200,"v":0.009},{"s":14,"f":215,"v":0.012},{"s":14,"f":250,"v":0.03},{"s":14,"f":300,"v":0.053},{"s":14,"f":331,"v":0.068},{"s":14,"f":350,"v":0.105},{"s":14,"f":360,"v":0.178},{"s":14,"f":370,"v":0.3},{"s":14,"f":380,"v":0.5},{"s":14,"f":390,"v":0.76},{"s":14,"f":396,"v":1.2},{"s":14,"f":401,"v":2.6},{"s":14,"f":403.5,"v":3.7},{"s":14,"f":405.5,"v":4.25},{"s":14,"f":408,"v":2.9},{"s":14,"f":412,"v":1.35},{"s":14,"f":420,"v":0.65},{"s":14,"f":434,"v":0.3},
{"s":15,"f":175,"v":0.0042},{"s":15,"f":190,"v":0.009},{"s":15,"f":206,"v":0.0158},{"s":15,"f":230,"v":0.026},{"s":15,"f":250,"v":0.033},{"s":15,"f":300,"v":0.055},{"s":15,"f":331,"v":0.069},{"s":15,"f":350,"v":0.107},{"s":15,"f":360,"v":0.18},{"s":15,"f":370,"v":0.3},{"s":15,"f":380,"v":0.5},{"s":15,"f":390,"v":0.78},{"s":15,"f":396,"v":1.3},{"s":15,"f":401,"v":3.1},{"s":15,"f":403.5,"v":4.05},{"s":15,"f":405.5,"v":3.5},{"s":15,"f":408,"v":2.3},{"s":15,"f":412,"v":1.1},{"s":15,"f":420,"v":0.57},{"s":15,"f":434,"v":0.27}
],
"cB": [
{"s":1,"f":393.4,"v":0.98},{"s":1,"f":395.1,"v":1.21},{"s":1,"f":397.1,"v":1.61},{"s":1,"f":399.1,"v":2.17},{"s":1,"f":401.1,"v":2.91},{"s":1,"f":402.1,"v":3.26},{"s":1,"f":403.1,"v":3.5},{"s":1,"f":404.1,"v":3.15},{"s":1,"f":405.1,"v":2.66},{"s":1,"f":406.1,"v":2.22},{"s":1,"f":407.1,"v":1.88},{"s":1,"f":409.1,"v":1.4},{"s":1,"f":412.2,"v":1.02},
{"s":2,"f":393.4,"v":0.95},{"s":2,"f":395.2,"v":1.18},{"s":2,"f":397.2,"v":1.57},{"s":2,"f":399.2,"v":2.12},{"s":2,"f":401.2,"v":2.84},{"s":2,"f":402.2,"v":3.18},{"s":2,"f":403.2,"v":3.42},{"s":2,"f":404.2,"v":3.08},{"s":2,"f":405.2,"v":2.6},{"s":2,"f":406.2,"v":2.17},{"s":2,"f":407.2,"v":1.84},{"s":2,"f":409.2,"v":1.38},{"s":2,"f":412.2,"v":1.0},
{"s":3,"f":393.4,"v":1.0},{"s":3,"f":395,"v":1.23},{"s":3,"f":397,"v":1.63},{"s":3,"f":399,"v":2.2},{"s":3,"f":401,"v":2.95},{"s":3,"f":402,"v":3.3},{"s":3,"f":403,"v":3.55},{"s":3,"f":404,"v":3.2},{"s":3,"f":405,"v":2.7},{"s":3,"f":406,"v":2.25},{"s":3,"f":407,"v":1.9},{"s":3,"f":409,"v":1.42},{"s":3,"f":412.2,"v":1.04}
],
"cR": [
{"s":1,"f":393.4,"v":0.97},{"s":1,"f":395.3,"v":1.26},{"s":1,"f":397.3,"v":1.7},{"s":1,"f":399.3,"v":2.35},{"s":1,"f":401.3,"v":3.24},{"s":1,"f":402.3,"v":3.73},{"s":1,"f":403.3,"v":4.05},{"s":1,"f":404.3,"v":3.65},{"s":1,"f":405.3,"v":3.08},{"s":1,"f":407.3,"v":2.11},{"s":1,"f":409.3,"v":1.38},{"s":1,"f":412.2,"v":0.98},
{"s":2,"f":393.4,"v":0.95},{"s":2,"f":395.5,"v":1.24},{"s":2,"f":397.5,"v":1.68},{"s":2,"f":399.5,"v":2.32},{"s":2,"f":401.5,"v":3.2},{"s":2,"f":402.5,"v":3.68},{"s":2,"f":403.5,"v":4.0},{"s":2,"f":404.5,"v":3.6},{"s":2,"f":405.5,"v":3.04},{"s":2,"f":407.5,"v":2.08},{"s":2,"f":409.5,"v":1.36},{"s":2,"f":412.2,"v":1.0},
{"s":3,"f":393.4,"v":0.9},{"s":3,"f":395.8,"v":1.22},{"s":3,"f":397.8,"v":1.66},{"s":3,"f":399.8,"v":2.29},{"s":3,"f":401.8,"v":3.16},{"s":3,"f":402.8,"v":3.63},{"s":3,"f":403.8,"v":3.95},{"s":3,"f":404.8,"v":3.56},{"s":3,"f":405.8,"v":3.0},{"s":3,"f":407.8,"v":2.05},{"s":3,"f":409.8,"v":1.34},{"s":3,"f":412.2,"v":1.02},
{"s":4,"f":393.4,"v":0.86},{"s":4,"f":395.6,"v":1.14},{"s":4,"f":397.6,"v":1.52},{"s":4,"f":399.6,"v":2.05},{"s":4,"f":401.6,"v":2.74},{"s":4,"f":402.6,"v":3.07},{"s":4,"f":403.6,"v":3.3},{"s":4,"f":404.6,"v":3.07},{"s":4,"f":405.6,"v":2.74},{"s":4,"f":407.6,"v":2.05},{"s":4,"f":409.6,"v":1.52},{"s":4,"f":412.2,"v":1.06},
{"s":5,"f":393.4,"v":0.94},{"s":5,"f":395.1,"v":1.19},{"s":5,"f":397.1,"v":1.62},{"s":5,"f":399.1,"v":2.23},{"s":5,"f":401.1,"v":3.08},{"s":5,"f":402.1,"v":3.54},{"s":5,"f":403.1,"v":3.85},{"s":5,"f":404.1,"v":3.47},{"s":5,"f":405.1,"v":2.93},{"s":5,"f":407.1,"v":2.0},{"s":5,"f":409.1,"v":1.31},{"s":5,"f":412.2,"v":0.97},
{"s":6,"f":393.4,"v":0.88},{"s":6,"f":394.6,"v":0.99},{"s":6,"f":396.6,"v":1.26},{"s":6,"f":398.6,"v":1.7},{"s":6,"f":400.6,"v":2.35},{"s":6,"f":402.6,"v":3.24},{"s":6,"f":403.6,"v":3.73},{"s":6,"f":404.6,"v":4.05},{"s":6,"f":405.6,"v":3.65},{"s":6,"f":406.6,"v":3.08},{"s":6,"f":408.6,"v":2.11},{"s":6,"f":410.6,"v":1.38},{"s":6,"f":412.2,"v":1.11},
{"s":7,"f":393.4,"v":0.88},{"s":7,"f":395,"v":1.02},{"s":7,"f":397,"v":1.29},{"s":7,"f":399,"v":1.74},{"s":7,"f":401,"v":2.41},{"s":7,"f":403,"v":3.32},{"s":7,"f":404,"v":3.82},{"s":7,"f":405,"v":4.15},{"s":7,"f":406,"v":3.74},{"s":7,"f":407,"v":3.15},{"s":7,"f":409,"v":2.16},{"s":7,"f":411,"v":1.41},{"s":7,"f":412.2,"v":1.2},
{"s":8,"f":393.4,"v":0.88},{"s":8,"f":395.3,"v":1.04},{"s":8,"f":397.3,"v":1.32},{"s":8,"f":399.3,"v":1.79},{"s":8,"f":401.3,"v":2.47},{"s":8,"f":403.3,"v":3.4},{"s":8,"f":404.3,"v":3.91},{"s":8,"f":405.3,"v":4.25},{"s":8,"f":406.3,"v":3.83},{"s":8,"f":407.3,"v":3.23},{"s":8,"f":409.3,"v":2.21},{"s":8,"f":411.3,"v":1.45},{"s":8,"f":412.2,"v":1.25},
{"s":9,"f":393.4,"v":0.87},{"s":9,"f":395.6,"v":1.05},{"s":9,"f":397.6,"v":1.33},{"s":9,"f":399.6,"v":1.8},{"s":9,"f":401.6,"v":2.48},{"s":9,"f":403.6,"v":3.42},{"s":9,"f":404.6,"v":3.94},{"s":9,"f":405.6,"v":4.28},{"s":9,"f":406.6,"v":3.85},{"s":9,"f":407.6,"v":3.25},{"s":9,"f":409.6,"v":2.23},{"s":9,"f":411.6,"v":1.46},{"s":9,"f":412.2,"v":1.3},
{"s":10,"f":393.4,"v":0.86},{"s":10,"f":395.8,"v":1.03},{"s":10,"f":397.8,"v":1.3},{"s":10,"f":399.8,"v":1.76},{"s":10,"f":401.8,"v":2.44},{"s":10,"f":403.8,"v":3.36},{"s":10,"f":404.8,"v":3.86},{"s":10,"f":405.8,"v":4.2},{"s":10,"f":406.8,"v":3.78},{"s":10,"f":407.8,"v":3.19},{"s":10,"f":409.8,"v":2.18},{"s":10,"f":411.8,"v":1.4},{"s":10,"f":412.2,"v":1.28},
{"s":11,"f":393.4,"v":0.89},{"s":11,"f":394.2,"v":0.97},{"s":11,"f":396.2,"v":1.22},{"s":11,"f":398.2,"v":1.66},{"s":11,"f":400.2,"v":2.29},{"s":11,"f":402.2,"v":3.16},{"s":11,"f":403.2,"v":3.63},{"s":11,"f":404.2,"v":3.95},{"s":11,"f":405.2,"v":3.56},{"s":11,"f":406.2,"v":3.0},{"s":11,"f":408.2,"v":2.05},{"s":11,"f":410.2,"v":1.34},{"s":11,"f":412.2,"v":1.05},
{"s":12,"f":393.4,"v":0.9},{"s":12,"f":395.2,"v":1.0},{"s":12,"f":397.2,"v":1.27},{"s":12,"f":399.2,"v":1.72},{"s":12,"f":401.2,"v":2.38},{"s":12,"f":403.2,"v":3.28},{"s":12,"f":404.2,"v":3.77},{"s":12,"f":405.2,"v":4.1},{"s":12,"f":406.2,"v":3.69},{"s":12,"f":407.2,"v":3.12},{"s":12,"f":409.2,"v":2.13},{"s":12,"f":411.2,"v":1.39},{"s":12,"f":412.2,"v":1.2},
{"s":13,"f":393.4,"v":0.9},{"s":13,"f":394.9,"v":0.98},{"s":13,"f":396.9,"v":1.24},{"s":13,"f":398.9,"v":1.68},{"s":13,"f":400.9,"v":2.32},{"s":13,"f":402.9,"v":3.2},{"s":13,"f":403.9,"v":3.68},{"s":13,"f":404.9,"v":4.0},{"s":13,"f":405.9,"v":3.6},{"s":13,"f":406.9,"v":3.04},{"s":13,"f":408.9,"v":2.08},{"s":13,"f":410.9,"v":1.36},{"s":13,"f":412.2,"v":1.14}
],
"eb": [
{"i":0,"f":225.3,"v":0.0468},{"i":1,"f":224.6,"v":0.0724},{"i":2,"f":222.7,"v":0.1089},{"i":3,"f":219.5,"v":0.1545},{"i":4,"f":215.5,"v":0.2023},{"i":5,"f":210.7,"v":0.2393},{"i":6,"f":205.6,"v":0.2535},{"i":7,"f":200.5,"v":0.2393},{"i":8,"f":195.75,"v":0.2023},{"i":9,"f":191.7,"v":0.1545},{"i":10,"f":188.5,"v":0.1089},{"i":11,"f":186.6,"v":0.0724},{"i":12,"f":185.9,"v":0.0468},{"i":13,"f":186.6,"v":0.0302},{"i":14,"f":188.5,"v":0.0201},{"i":15,"f":191.7,"v":0.01416},{"i":16,"f":195.75,"v":0.01081},{"i":17,"f":200.5,"v":0.00914},{"i":18,"f":205.6,"v":0.00863},{"i":19,"f":210.7,"v":0.00914},{"i":20,"f":215.5,"v":0.01081},{"i":21,"f":219.5,"v":0.01416},{"i":22,"f":222.7,"v":0.0201},{"i":23,"f":224.6,"v":0.0302},{"i":24,"f":225.3,"v":0.0468}
],
"ec": [
{"i":0,"f":410.34,"v":3.21},{"i":1,"f":410.14,"v":3.46},{"i":2,"f":409.57,"v":3.72},{"i":3,"f":408.65,"v":3.95},{"i":4,"f":407.45,"v":4.14},{"i":5,"f":406.06,"v":4.26},{"i":6,"f":404.56,"v":4.29},{"i":7,"f":403.06,"v":4.26},{"i":8,"f":401.67,"v":4.14},{"i":9,"f":400.47,"v":3.95},{"i":10,"f":399.55,"v":3.72},{"i":11,"f":398.98,"v":3.46},{"i":12,"f":398.78,"v":3.21},{"i":13,"f":398.98,"v":2.98},{"i":14,"f":399.55,"v":2.77},{"i":15,"f":400.47,"v":2.61},{"i":16,"f":401.67,"v":2.49},{"i":17,"f":403.06,"v":2.42},{"i":18,"f":404.56,"v":2.4},{"i":19,"f":406.06,"v":2.42},{"i":20,"f":407.45,"v":2.49},{"i":21,"f":408.65,"v":2.61},{"i":22,"f":409.57,"v":2.77},{"i":23,"f":410.14,"v":2.98},{"i":24,"f":410.34,"v":3.21}
]
},
"vconcat": [
{
"hconcat": [
{
"title": {"text": "(a)  Filtre du Mode n°3", "dx": -21, "offset": 23},
"width": 344, "height": 271,
"layer": [
{"data": {"name": "aB"}, "mark": {"type": "line", "color": "#0000ff", "clip": true},
 "encoding": {
  "x": {"field": "f", "type": "quantitative", "scale": {"domain": [0, 800], "nice": false, "zero": false},
        "axis": {"orient": "bottom", "values": [0, 200, 400, 600, 800], "title": "Fréquence (Hz)", "titleFontSize": 17, "titlePadding": 1, "labelFontSize": 15, "tickSize": -5, "labelPadding": 7}},
  "y": {"field": "v", "type": "quantitative", "scale": {"type": "log", "domain": [0.001, 10], "nice": false},
        "axis": {"orient": "left", "values": [0.001, 0.01, 0.1, 1, 10], "labelExpr": "datum.value > 5 ? '10¹' : datum.value > 0.5 ? '10⁰' : datum.value > 0.05 ? '10⁻¹' : datum.value > 0.005 ? '10⁻²' : '10⁻³'", "title": "Amplitude", "titleFontSize": 17, "titlePadding": 4, "labelFontSize": 15, "tickSize": -5, "labelPadding": 10}},
  "detail": {"field": "s", "type": "nominal"}
 }},
{"data": {"name": "aR"}, "mark": {"type": "line", "color": "#ff0000", "clip": true},
 "encoding": {
  "x": {"field": "f", "type": "quantitative", "axis": {"orient": "top", "values": [0, 200, 400, 600, 800], "labels": false, "tickSize": -5, "title": "Mode n°3", "titleColor": "#ff0000", "titleFontSize": 12, "titlePadding": 10}},
  "y": {"field": "v", "type": "quantitative", "axis": {"orient": "right", "values": [0.001, 0.01, 0.1, 1, 10], "labels": false, "tickSize": -5, "title": null}},
  "detail": {"field": "s", "type": "nominal"}
 }}
],
"resolve": {"axis": {"x": "independent", "y": "independent"}}
},
{
"vconcat": [
{"width": 10, "height": 1, "data": {"values": []}, "mark": {"type": "rule", "opacity": 0}, "encoding": {}, "view": {"stroke": null}},
{
"title": {"text": "(b)  zoom - 1", "dx": -21, "offset": 18},
"width": 313, "height": 230,
"layer": [
{"data": {"name": "bB"}, "mark": {"type": "line", "color": "#0000ff", "clip": true},
 "encoding": {
  "x": {"field": "f", "type": "quantitative", "scale": {"domain": [154, 464], "nice": false, "zero": false},
        "axis": {"orient": "bottom", "values": [200, 300, 400], "title": "Fréquence (Hz)", "titleX": 152, "titleFontSize": 22, "titlePadding": 1, "labelFontSize": 20, "tickSize": -5, "labelPadding": 14}},
  "y": {"field": "v", "type": "quantitative", "scale": {"type": "log", "domain": [0.0045, 11.9], "nice": false},
        "axis": {"orient": "left", "values": [0.01, 1], "labelExpr": "datum.value > 0.5 ? '10⁰' : '10⁻²'", "title": "Amplitude", "titleFontSize": 22, "titlePadding": 6, "labelFontSize": 20, "tickSize": -5, "labelPadding": 14}},
  "detail": {"field": "s", "type": "nominal"}
 }},
{"data": {"name": "bR"}, "mark": {"type": "line", "color": "#ff0000", "clip": true},
 "encoding": {
  "x": {"field": "f", "type": "quantitative", "axis": {"orient": "top", "values": [200, 300, 400], "labels": false, "tickSize": -5, "title": "Mode n°3", "titleX": 153, "titleColor": "#ff0000", "titleFontSize": 15, "titlePadding": 12}},
  "y": {"field": "v", "type": "quantitative", "axis": {"orient": "right", "values": [0.01, 1], "labels": false, "tickSize": -5, "title": null}},
  "detail": {"field": "s", "type": "nominal"}
 }},
{"data": {"name": "eb"}, "mark": {"type": "line", "color": "black", "strokeWidth": 1, "clip": true},
 "encoding": {
  "x": {"field": "f", "type": "quantitative", "axis": null},
  "y": {"field": "v", "type": "quantitative", "axis": null},
  "order": {"field": "i", "type": "quantitative"}
 }}
],
"resolve": {"axis": {"x": "independent", "y": "independent"}}
}
],
"spacing": 0
}
],
"spacing": 37
},
{
"title": {"text": "(c)  zoom - 2", "dx": -16, "offset": 22},
"width": 307, "height": 231,
"layer": [
{"data": {"name": "cB"}, "mark": {"type": "line", "color": "#0000ff", "strokeWidth": 1.3, "clip": true},
 "encoding": {
  "x": {"field": "f", "type": "quantitative", "scale": {"domain": [390, 420], "nice": false, "zero": false},
        "axis": {"orient": "bottom", "values": [390, 400, 410, 420], "title": "Fréquence (Hz)", "titleFontSize": 22, "titlePadding": 1, "labelFontSize": 20, "tickSize": -5, "labelPadding": 11}},
  "y": {"field": "v", "type": "quantitative", "scale": {"type": "log", "domain": [0.812, 4.26], "nice": false},
        "axis": {"orient": "left", "values": [0.9, 1, 2, 3, 4], "labelExpr": "datum.value == 1 ? '10⁰' : ''", "title": "Amplitude", "titleFontSize": 22, "titlePadding": 6, "labelFontSize": 20, "tickSize": -5, "labelPadding": 14}},
  "detail": {"field": "s", "type": "nominal"}
 }},
{"data": {"name": "cR"}, "mark": {"type": "line", "color": "#ff0000", "strokeWidth": 1.3, "clip": true},
 "encoding": {
  "x": {"field": "f", "type": "quantitative", "axis": {"orient": "top", "values": [390, 400, 410, 420], "labels": false, "tickSize": -5, "title": "Mode n°3", "titleColor": "#ff0000", "titleFontSize": 16, "titlePadding": 10}},
  "y": {"field": "v", "type": "quantitative", "axis": {"orient": "right", "values": [0.9, 1, 2, 3, 4], "labels": false, "tickSize": -5, "title": null}},
  "detail": {"field": "s", "type": "nominal"}
 }},
{"data": {"name": "ec"}, "mark": {"type": "line", "color": "black", "strokeWidth": 1, "clip": true},
 "encoding": {
  "x": {"field": "f", "type": "quantitative", "axis": null},
  "y": {"field": "v", "type": "quantitative", "axis": null},
  "order": {"field": "i", "type": "quantitative"}
 }}
],
"resolve": {"axis": {"x": "independent", "y": "independent"}}
}
],
"spacing": 14,
"center": true
}
